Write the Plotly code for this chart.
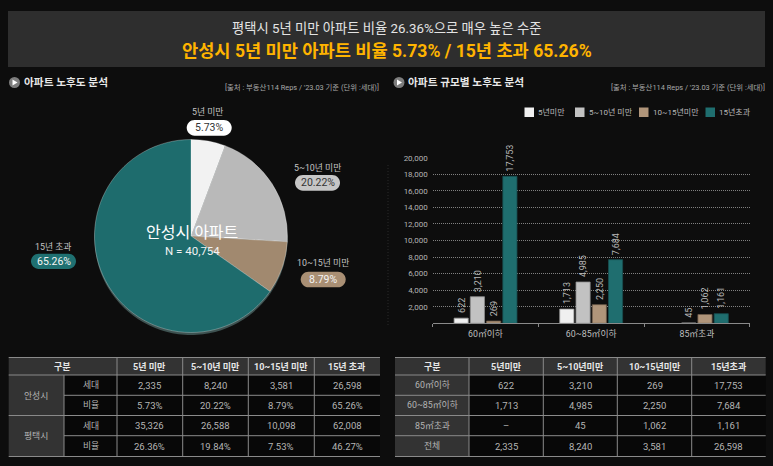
import plotly.graph_objects as go

W, H = 773, 466
FONT = "Roboto, 'Noto Sans CJK KR'"

# ---------- data ----------
pie_labels = ["5년 미만", "5~10년 미만", "10~15년 미만", "15년 초과"]
pie_values = [5.73, 20.22, 8.79, 65.26]
pie_colors = ["#f2f2f2", "#b9b9b9", "#a1896f", "#1e6c6d"]

size_cats = ["60㎡이하", "60~85㎡이하", "85㎡초과"]
series_names = ["5년미만", "5~10년 미만", "10~15년미만", "15년초과"]
s_under5 = [622, 1713, None]
s_5to10 = [3210, 4985, 45]
s_10to15 = [269, 2250, 1062]
s_over15 = [17753, 7684, 1161]
bar_colors = ["#f0f0f0", "#c2c2c2", "#b0957a", "#1f6e6f"]
bar_lines = ["#9a9a9a", "#8e8e8e", "#6f5d4b", "#184f50"]
y_ticks = [2000, 4000, 6000, 8000, 10000, 12000, 14000, 16000, 18000, 20000]

left_head = ["구분", "5년 미만", "5~10년 미만", "10~15년 미만", "15년 초과"]
left_groups = ["안성시", "평택시"]
left_rowlabels = ["세대", "비율", "세대", "비율"]
left_rows = [
    ["2,335", "8,240", "3,581", "26,598"],
    ["5.73%", "20.22%", "8.79%", "65.26%"],
    ["35,326", "26,588", "10,098", "62,008"],
    ["26.36%", "19.84%", "7.53%", "46.27%"],
]
right_head = ["구분", "5년미만", "5~10년미만", "10~15년미만", "15년초과"]
right_rowlabels = ["60㎡이하", "60~85㎡이하", "85㎡초과", "전체"]
right_rows = [
    ["622", "3,210", "269", "17,753"],
    ["1,713", "4,985", "2,250", "7,684"],
    ["–", "45", "1,062", "1,161"],
    ["2,335", "8,240", "3,581", "26,598"],
]

# ---------- helpers (pixel -> paper) ----------
px = lambda x: x / W
py = lambda y: 1 - y / H
shapes, annos = [], []

def text(x, y, s, size=9, color="#cfcfcf", anchor="center", bold=False):
    annos.append(dict(x=px(x), y=py(y), xref="paper", yref="paper", text=f"<b>{s}</b>" if bold else s,
                      showarrow=False, xanchor=anchor, yanchor="middle",
                      font=dict(family=FONT, size=size, color=color)))

def rect(x0, y0, x1, y1, fill):
    shapes.append(dict(type="rect", xref="paper", yref="paper", x0=px(x0), x1=px(x1), y0=py(y0), y1=py(y1),
                       fillcolor=fill, line=dict(width=0), layer="below"))

def hline(x0, x1, y, color, width=1, dash="solid"):
    shapes.append(dict(type="line", xref="paper", yref="paper", x0=px(x0), x1=px(x1), y0=py(y), y1=py(y),
                       line=dict(color=color, width=width, dash=dash), layer="above"))

def vline(x, y0, y1, color, width=1, dash="solid"):
    shapes.append(dict(type="line", xref="paper", yref="paper", x0=px(x), x1=px(x), y0=py(y0), y1=py(y1),
                       line=dict(color=color, width=width, dash=dash), layer="above"))

def pill(x0, y0, x1, y1, fill):
    r = (y1 - y0) / 2
    k = 0.55 * r
    p = lambda a, b: f"{px(a)},{py(b)}"
    path = (f"M{p(x0 + r, y0)} L{p(x1 - r, y0)} "
            f"C{p(x1 - r + k, y0)} {p(x1, y0 + r - k)} {p(x1, y0 + r)} "
            f"C{p(x1, y0 + r + k)} {p(x1 - r + k, y1)} {p(x1 - r, y1)} "
            f"L{p(x0 + r, y1)} "
            f"C{p(x0 + r - k, y1)} {p(x0, y0 + r + k)} {p(x0, y0 + r)} "
            f"C{p(x0, y0 + r - k)} {p(x0 + r - k, y0)} {p(x0 + r, y0)} Z")
    shapes.append(dict(type="path", xref="paper", yref="paper", path=path, fillcolor=fill,
                       line=dict(width=0), layer="above"))

def circle(cx, cy, r, fill):
    shapes.append(dict(type="circle", xref="paper", yref="paper", x0=px(cx - r), x1=px(cx + r),
                       y0=py(cy + r), y1=py(cy - r), fillcolor=fill, line=dict(width=0), layer="above"))

def tri(cx, cy):
    shapes.append(dict(type="path", xref="paper", yref="paper", fillcolor="#ffffff", line=dict(width=0),
                       path=f"M{px(cx - 2)},{py(cy - 3)} L{px(cx + 3)},{py(cy)} L{px(cx - 2)},{py(cy + 3)} Z"))

# ---------- banner ----------
rect(8, 11, 765, 67, "#2e2e2e")
text(386, 28.5, "평택시 5년 미만 아파트 비율 26.36%으로 매우 높은 수준", 13.3, "#e4e4e4")
text(387, 50.5, "안성시 5년 미만 아파트 비율 5.73% / 15년 초과 65.26%", 17.6, "#ffb400", bold=True)

# ---------- section titles ----------
for cx, tx, title, src_x in [(14.5, 21.5, "아파트 노후도 분석", 381), (399, 406, "아파트 규모별 노후도 분석", 767)]:
    circle(cx, 82.5, 5.5, "#7d7d7d")
    tri(cx, 82.5)
    text(tx, 82.5, title, 10.7, "#e8e8e8", "left", bold=True)
    text(src_x, 87, "[출처 : 부동산114 Reps / '23.03 기준 (단위 :세대)]", 7.4, "#a8a8a8", "right")

vline(388, 165, 325, "#2b2b2b", 1, "1px,2px")

# ---------- pie callouts ----------
callouts = [
    (208, 112, 186.7, 120, 231.7, 135.7, "#ffffff", "#333333"),
    (317, 168, 295, 175, 340, 190.7, "#c6c6c6", "#333333"),
    (322.5, 263, 300.7, 271.7, 345.7, 287.3, "#a98f74", "#f4f4f4"),
    (53, 247, 31, 253.7, 76, 269, "#1f7071", "#f4f4f4"),
]
for (tx, ty, x0, y0, x1, y1, fill, fc), lab, val in zip(callouts, pie_labels, pie_values):
    text(tx, ty, lab, 8.8, "#c4c4c4")
    pill(x0, y0, x1, y1, fill)
    text((x0 + x1) / 2, (y0 + y1) / 2, f"{val:.2f}%", 10.5, fc)

text(192, 232.5, "안성시 아파트", 16, "#ffffff")
text(192, 250.5, "N = 40,754", 11.5, "#f2f2f2")

# ---------- chart legend ----------
for lx, tx, name, col in zip([524.5, 575, 639, 705.5], [536, 586.5, 650.5, 716.5], series_names, bar_colors):
    rect(lx, 107.5, lx + 9.5, 117, col)
    text(tx, 112, name, 8, "#b8b8b8", "left")

# ---------- tables ----------
LINE = "#8a8a8a"
rows_y = [357.5, 375, 395.3, 415.5, 435.7, 456.5]
HEAD, DARK = "#333333", "#080808"

# left table
lx = [8.7, 64, 117, 182.7, 248.3, 314.3, 380]
rect(lx[0], rows_y[0], lx[-1], rows_y[1], HEAD)
rect(lx[0], rows_y[1], lx[1], rows_y[-1], HEAD)
rect(lx[1], rows_y[1], lx[-1], rows_y[-1], DARK)
text((lx[0] + lx[2]) / 2, 366.5, left_head[0], 9, "#e6e6e6", bold=True)
for i in range(4):
    text((lx[i + 2] + lx[i + 3]) / 2, 366.5, left_head[i + 1], 9, "#e6e6e6", bold=True)
    for r in range(4):
        text((lx[i + 2] + lx[i + 3]) / 2, (rows_y[r + 1] + rows_y[r + 2]) / 2 + 0.3, left_rows[r][i], 9.5, "#b4b4b4")
for r in range(4):
    text((lx[1] + lx[2]) / 2, (rows_y[r + 1] + rows_y[r + 2]) / 2, left_rowlabels[r], 8.8, "#b4b4b4")
text((lx[0] + lx[1]) / 2, 396, left_groups[0], 8.8, "#b4b4b4")
text((lx[0] + lx[1]) / 2, 436, left_groups[1], 8.8, "#b4b4b4")
hline(lx[0], lx[-1], rows_y[0], LINE, 1.2)
hline(lx[0], lx[-1], rows_y[1], LINE, 1)
hline(lx[1], lx[-1], rows_y[2], LINE, 1)
hline(lx[0], lx[-1], rows_y[3], LINE, 1)
hline(lx[1], lx[-1], rows_y[4], LINE, 1)
hline(lx[0], lx[-1], rows_y[5], LINE, 1.2)
vline(lx[1], rows_y[1], rows_y[-1], LINE)
for x in lx[2:-1]:
    vline(x, rows_y[0], rows_y[-1], LINE)

# right table
rx = [395, 469, 543.3, 617.3, 691.7, 765.7]
rect(rx[0], rows_y[0], rx[-1], rows_y[1], HEAD)
rect(rx[0], rows_y[1], rx[1], rows_y[-1], HEAD)
rect(rx[1], rows_y[1], rx[-1], rows_y[-1], DARK)
for i in range(5):
    text((rx[i] + rx[i + 1]) / 2, 366.5, right_head[i], 9, "#e6e6e6", bold=True)
for r in range(4):
    yc = (rows_y[r + 1] + rows_y[r + 2]) / 2
    text((rx[0] + rx[1]) / 2, yc, right_rowlabels[r], 8.8, "#b4b4b4")
    for i in range(4):
        text((rx[i + 1] + rx[i + 2]) / 2, yc + 0.3, right_rows[r][i], 9.5, "#b4b4b4")
for y, w in zip(rows_y, [1.2, 1, 1, 1, 1, 1.2]):
    hline(rx[0], rx[-1], y, LINE, w)
for x in rx[1:-1]:
    vline(x, rows_y[0], rows_y[-1], LINE)

# ---------- traces ----------
fig = go.Figure()
R, CX, CY = 96.5, 191, 236
fig.add_trace(go.Pie(values=pie_values, sort=False, direction="clockwise", rotation=0, textinfo="none",
                     hoverinfo="skip", showlegend=False,
                     marker=dict(colors=["#3d5150"] * 4, line=dict(width=0)),
                     domain=dict(x=[px(CX - R), px(CX + R)], y=[py(CY + 2.5 + R), py(CY + 2.5 - R)])))
fig.add_trace(go.Pie(values=pie_values, labels=pie_labels, sort=False, direction="clockwise", rotation=0,
                     textinfo="none", hoverinfo="label+percent", showlegend=False,
                     marker=dict(colors=pie_colors, line=dict(color="rgba(255,255,255,0.35)", width=0.8)),
                     domain=dict(x=[px(CX - R), px(CX + R)], y=[py(CY + R), py(CY - R)])))

PITCH = 16.2
for idx, (name, vals, col, ln) in enumerate(zip(series_names, [s_under5, s_5to10, s_10to15, s_over15], bar_colors, bar_lines)):
    fig.add_trace(go.Bar(name=name, x=size_cats, y=vals, showlegend=False,
                         marker=dict(color=col, line=dict(color=ln, width=0.8))))
    for cat, v in zip(size_cats, vals):
        if v is None:
            continue
        annos.append(dict(x=cat, y=v, xref="x", yref="y", text=f"{v:,}", showarrow=False, textangle=-90,
                          xanchor="center", yanchor="bottom", xshift=(idx - 1.5) * PITCH, yshift=3,
                          font=dict(family=FONT, size=9, color="#b8b8b8")))

fig.update_layout(
    width=W, height=H, autosize=False, margin=dict(l=0, r=0, t=0, b=0, pad=0),
    paper_bgcolor="#0d0d0d", plot_bgcolor="#0d0d0d",
    font=dict(family=FONT), barmode="group", bargap=0.385, bargroupgap=0.13,
    shapes=shapes, annotations=annos,
    xaxis=dict(domain=[px(432.7), px(749.7)], type="category", tickson="boundaries", ticks="outside", ticklen=3,
               tickcolor="#8a8a8a", linecolor="#8a8a8a", linewidth=1, showline=True, showgrid=False,
               automargin=False, ticklabelstandoff=2,
               tickfont=dict(family=FONT, size=8.8, color="#bdbdbd"), anchor="y"),
    yaxis=dict(domain=[py(323.3), py(157.7)], range=[0, 20000], tickvals=y_ticks, tickformat=",", ticks="",
               gridcolor="#808080", griddash="1px,1px", gridwidth=1, zeroline=False, showline=False,
               automargin=False, ticklabelstandoff=4,
               tickfont=dict(family=FONT, size=8, color="#b4b4b4"), anchor="x"),
)

fig.write_html("out.html", config=dict(displayModeBar=False), post_script="document.body.style.margin='0';")
